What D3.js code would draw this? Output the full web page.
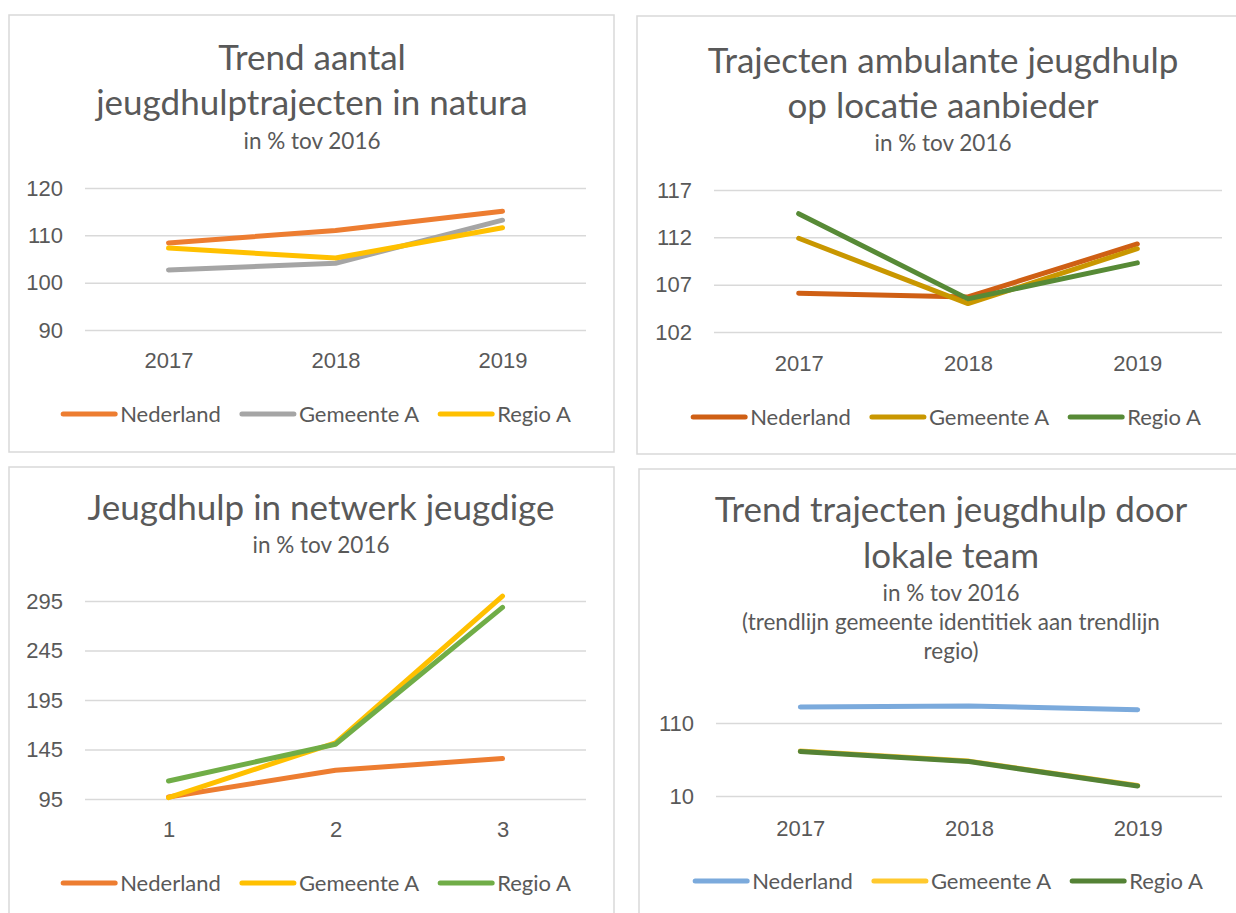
<!DOCTYPE html>
<html>
<head>
<meta charset="utf-8">
<script src="https://cdn.jsdelivr.net/npm/d3@7"></script>
<style>
  body { margin: 0; background: #fff; }
  svg { display: block; font-family: Lato, "Open Sans", sans-serif; }
  .tick line { stroke: #d9d9d9; stroke-width: 1.5; }
  .tick text { fill: #595959; font-size: 22px; }
</style>
</head>
<body>
<svg id="chart" width="1236" height="913"></svg>
<script>
var series = ["Nederland", "Gemeente A", "Regio A"]
var years = ["2017", "2018", "2019"]
var steps = ["1", "2", "3"]

// trend aantal jeugdhulptrajecten in natura
var natuNederland = [108.4, 111.0, 115.1]
var natuGemeente = [102.7, 104.1, 113.2]
var natuRegio = [107.3, 105.2, 111.6]
var natuTicks = [90, 100, 110, 120]

// trajecten ambulante jeugdhulp op locatie aanbieder
var ambuNederland = [106.1, 105.7, 111.3]
var ambuGemeente = [111.9, 105.0, 110.8]
var ambuRegio = [114.5, 105.5, 109.3]
var ambuTicks = [102, 107, 112, 117]

// jeugdhulp in netwerk jeugdige
var netwNederland = [97, 124, 135.9]
var netwGemeente = [96.4, 151.7, 300]
var netwRegio = [113.2, 150.3, 288.6]
var netwTicks = [95, 145, 195, 245, 295]

// trend trajecten jeugdhulp door lokale team
var lokaNederland = [132, 133.4, 128.3]
var lokaGemeente = [71.6, 57.8, 24.3]
var lokaRegio = [71, 57.2, 23.7]
var lokaTicks = [10, 110]

var svg = d3.select("#chart")

var panels = [
	{
		box: [9, 15, 605, 437], cx: 312, legendCx: 316,
		titles: [[58, "Trend aantal", 1], [103, "jeugdhulptrajecten in natura", 1], [141, "in % tov 2016", 0]],
		cats: years, values: [natuNederland, natuGemeente, natuRegio], ticks: natuTicks,
		colors: ["#ed7d31", "#a5a5a5", "#ffc000"],
		x: [85, 586], y: [330, 188], catY: 360, legendY: 414
	},
	{
		box: [637, 16, 620, 438], cx: 943, legendCx: 946,
		titles: [[61, "Trajecten ambulante jeugdhulp", 1], [106, "op locatie aanbieder", 1], [143, "in % tov 2016", 0]],
		cats: years, values: [ambuNederland, ambuGemeente, ambuRegio], ticks: ambuTicks,
		colors: ["#cf5f14", "#c99700", "#578a36"],
		x: [714, 1222], y: [332, 190], catY: 363, legendY: 417
	},
	{
		box: [9, 467, 605, 470], cx: 321, legendCx: 316,
		titles: [[508, "Jeugdhulp in netwerk jeugdige", 1], [545, "in % tov 2016", 0]],
		cats: steps, values: [netwNederland, netwGemeente, netwRegio], ticks: netwTicks,
		colors: ["#ed7d31", "#ffc000", "#70ad47"],
		x: [85, 586], y: [799, 601], catY: 829, legendY: 883
	},
	{
		box: [639, 469, 620, 470], cx: 951, legendCx: 948,
		titles: [[510, "Trend trajecten jeugdhulp door", 1], [556, "lokale team", 1], [593, "in % tov 2016", 0],
			[622, "(trendlijn gemeente identitiek aan trendlijn", 0], [651, "regio)", 0]],
		cats: years, values: [lokaNederland, lokaGemeente, lokaRegio], ticks: lokaTicks,
		colors: ["#7baadc", "#ffc92e", "#548235"],
		x: [716, 1222], y: [796, 723], catY: 828, legendY: 881
	}
]

panels.forEach(drawPanel)

function drawPanel(p)
{
	var g = svg.append("g")

	g.append("rect")
		.attr("x", p.box[0]).attr("y", p.box[1])
		.attr("width", p.box[2]).attr("height", p.box[3])
		.attr("fill", "#fff")
		.attr("stroke", "#d9d9d9")
		.attr("stroke-width", 1.5)

	// titles
	g.selectAll(".title")
		.data(p.titles)
		.enter()
		.append("text")
		.attr("class", "title")
		.attr("x", p.cx)
		.attr("y", function(d) { return d[0] })
		.attr("dy", "0.35em")
		.attr("text-anchor", "middle")
		.attr("fill", "#595959")
		.attr("font-size", function(d) { return d[2] ? "35px" : "22.5px" })
		.text(function(d) { return d[1] })

	var x = d3.scalePoint().domain(p.cats).range(p.x).padding(0.5)
	var y = d3.scaleLinear().domain([p.ticks[0], p.ticks[p.ticks.length - 1]]).range(p.y)

	var yAxis = g.append("g")
		.attr("transform", "translate(" + p.x[0] + ",0)")
		.call(d3.axisLeft(y).tickValues(p.ticks).tickFormat(d3.format("d"))
			.tickSize(-(p.x[1] - p.x[0])).tickPadding(22))
	yAxis.select(".domain").remove()

	var xAxis = g.append("g")
		.attr("transform", "translate(0," + p.y[0] + ")")
		.call(d3.axisBottom(x).tickSize(0).tickPadding(p.catY - p.y[0] - 8))
	xAxis.select(".domain").remove()

	var line = d3.line()
		.x(function(d, i) { return x(p.cats[i]) })
		.y(function(d) { return y(d) })

	g.selectAll(".series")
		.data(p.values)
		.enter()
		.append("path")
		.attr("class", "series")
		.attr("d", line)
		.attr("fill", "none")
		.attr("stroke", function(d, i) { return p.colors[i] })
		.attr("stroke-width", 5)
		.attr("stroke-linecap", "round")
		.attr("stroke-linejoin", "round")

	// legend
	var legend = g.append("g")
	var pos = 0
	series.forEach(function(name, i)
	{
		var item = legend.append("g").attr("transform", "translate(" + pos + ",0)")
		item.append("line")
			.attr("x1", 2).attr("x2", 54)
			.attr("stroke", p.colors[i])
			.attr("stroke-width", 5)
			.attr("stroke-linecap", "round")
		var t = item.append("text")
			.attr("x", 59)
			.attr("dy", "0.35em")
			.attr("fill", "#595959")
			.attr("font-size", "22px")
			.text(name)
		pos += 59 + t.node().getComputedTextLength() + 19
	})
	var total = pos - 19
	legend.attr("transform", "translate(" + (p.legendCx - total / 2) + "," + p.legendY + ")")
}
</script>
</body>
</html>
